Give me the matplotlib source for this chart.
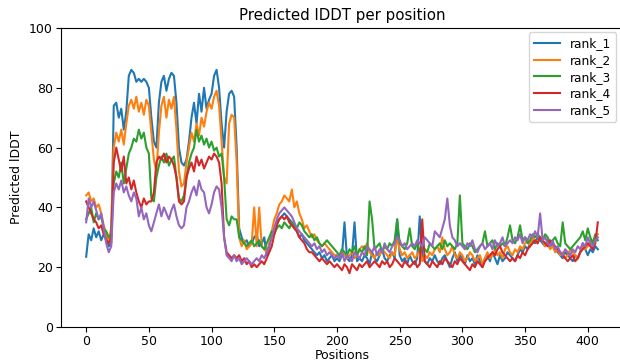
import matplotlib
matplotlib.use("Agg")
import matplotlib.pyplot as plt

positions = list(range(0, 410, 2))

rank_1 = [
    23.5, 31, 29, 33, 30, 32, 29, 31, 30, 27,
    28, 74, 75, 70, 73, 66, 72, 84, 86, 85,
    82, 83, 82, 83, 82, 80, 70, 62, 60, 75,
    82, 84, 79, 83, 85, 84, 75, 60, 55, 54,
    56, 62, 70, 75, 68, 78, 72, 80, 73, 76,
    78, 84, 86, 80, 68, 60, 72, 78, 79, 77,
    60, 33, 30, 28, 29, 27, 28, 30, 31, 27,
    28, 30, 24, 27, 31, 33, 35, 36, 37, 38,
    37, 36, 35, 33, 32, 30, 31, 29, 28, 27,
    26, 25, 24, 25, 23, 24, 22, 23, 24, 22,
    23, 22, 24, 35, 23, 22, 24, 35, 22, 23,
    22, 24, 23, 21, 25, 23, 22, 24, 26, 23,
    22, 24, 25, 23, 36, 24, 22, 23, 21, 24,
    22, 21, 23, 37, 24, 22, 21, 23, 22, 24,
    22, 21, 23, 24, 22, 20, 23, 25, 22, 24,
    23, 21, 24, 22, 23, 21, 24, 22, 20, 23,
    24, 22, 25, 23, 21, 24, 22, 23, 25, 24,
    23, 22, 24, 26, 25, 27, 26, 28, 29, 28,
    30, 29, 28, 27, 29, 28, 27, 26, 25, 24,
    23, 25, 24, 23, 22, 24, 23, 25, 28, 26,
    24, 26, 25, 27, 26,
]

rank_2 = [
    44, 45, 42, 43, 40, 41, 38, 34, 31, 29,
    33, 60, 65, 62, 66, 61, 68, 74, 76, 73,
    77, 72, 75, 71, 76, 74, 65, 56, 52, 65,
    74, 77, 70, 76, 73, 77, 66, 52, 47, 48,
    55, 60, 65, 62, 68, 64, 70, 67, 72, 75,
    73, 77, 79, 74, 62, 50, 48, 68, 71, 70,
    55, 30, 27, 29, 26, 27, 28, 40, 27, 40,
    27, 26, 25, 28, 32, 36, 38, 41, 42, 44,
    43, 42, 46, 40, 42, 38, 36, 33, 34, 32,
    30, 31, 29, 28, 27, 28, 27, 26, 25, 24,
    24, 23, 25, 24, 23, 24, 25, 23, 24, 26,
    27, 26, 28, 25, 24, 23, 25, 24, 26, 25,
    24, 23, 25, 24, 30, 26, 24, 25, 23, 24,
    25, 23, 24, 26, 22, 24, 23, 25, 24, 26,
    27, 25, 30, 26, 24, 25, 27, 24, 23, 25,
    24, 22, 23, 25, 24, 22, 23, 24, 21, 23,
    25, 23, 24, 26, 24, 25, 23, 26, 27, 25,
    24, 26, 25, 27, 26, 28, 29, 27, 30, 29,
    28, 30, 29, 27, 28, 26, 27, 25, 26, 24,
    25, 23, 24, 26, 25, 24, 23, 25, 27, 26,
    27, 29, 28, 30, 31,
]

rank_3 = [
    36, 38, 40, 35, 38, 36, 37, 33, 32, 30,
    31, 48, 52, 50, 55, 48, 53, 58, 60, 63,
    62, 66, 63, 65, 60, 58, 43, 42, 50, 54,
    57, 55, 58, 54, 56, 57, 50, 43, 42, 44,
    50, 55, 58, 60, 66, 62, 64, 61, 63, 60,
    62, 59, 60, 57, 58, 50, 36, 34, 37, 36,
    36, 30, 29, 28, 27, 28, 29, 27, 28, 29,
    27, 26, 28, 30, 32, 31, 33, 34, 33, 35,
    34, 33, 35, 34, 33, 35, 34, 32, 31, 30,
    31, 29, 30, 28, 27, 28, 29, 28, 27, 26,
    25, 24, 26, 25, 24, 26, 25, 27, 24, 26,
    25, 27, 24, 42, 36, 26, 27, 28, 25, 27,
    26, 28, 27, 29, 36, 28, 27, 26, 28, 33,
    27, 26, 28, 25, 27, 26, 25, 28, 27, 26,
    27, 28, 26, 29, 27, 28, 27, 26, 28, 44,
    28, 27, 26, 28, 27, 25, 26, 27, 28, 32,
    27, 28, 29, 26, 28, 27, 28, 27, 30, 34,
    29, 28, 30, 34, 29, 30, 28, 29, 31, 30,
    31, 30, 29, 31, 30, 28, 29, 30, 28, 27,
    35, 28, 27, 26, 27, 28, 29, 30, 32, 29,
    33, 30, 28, 31, 29,
]

rank_4 = [
    42, 40, 38, 36, 35, 33, 34, 31, 29, 28,
    30, 55, 60, 56, 52, 57, 48, 50, 46, 49,
    45, 42, 40, 43, 41, 42, 42, 45, 55, 57,
    56, 58, 55, 57, 56, 54, 50, 42, 41, 42,
    50, 53, 55, 52, 57, 54, 56, 53, 55, 57,
    56, 58, 57, 55, 48, 30, 25, 24, 23, 24,
    23, 24, 22, 23, 21, 22, 20, 21, 20, 21,
    22, 21, 23, 25, 27, 31, 34, 36, 37, 36,
    37, 35, 34, 33, 32, 30, 29, 28, 26, 25,
    25, 24, 23, 22, 23, 22, 21, 22, 21, 20,
    21, 20, 19, 21, 20, 18, 21, 20, 19, 21,
    20, 21, 22, 20, 21, 22, 21, 20, 22, 21,
    22, 20, 21, 23, 22, 21, 20, 22, 21, 20,
    21, 22, 20, 21, 36, 22, 21, 20, 22, 21,
    20, 22, 21, 23, 22, 21, 20, 22, 21, 23,
    22, 21, 20, 19, 21, 20, 22, 21, 20, 22,
    23, 24, 25, 24, 26, 27, 25, 24, 23, 22,
    23, 22, 24, 23, 25, 24, 26, 27, 28, 29,
    28, 30, 29, 28, 27, 29, 28, 27, 26, 25,
    24, 23, 22, 23, 24, 22, 23, 25, 26, 27,
    28, 27, 26, 28, 35,
]

rank_5 = [
    35, 43, 40, 42, 39, 36, 38, 33, 28, 25,
    27, 45, 48, 46, 49, 45, 47, 44, 42, 45,
    43, 37, 40, 36, 38, 34, 32, 35, 38, 41,
    37, 40, 38, 36, 39, 41, 37, 34, 33, 34,
    40, 42, 45, 47, 44, 49, 46, 45, 40, 38,
    41, 45, 47, 46, 40, 30, 24, 23, 22, 24,
    22, 23, 21, 22, 23, 22, 21, 22, 23, 22,
    24, 23, 25, 27, 30, 33, 36, 38, 39, 40,
    39, 38, 37, 35, 33, 32, 31, 30, 29, 28,
    27, 28, 26, 27, 25, 26, 24, 25, 24, 23,
    24, 23, 25, 22, 24, 23, 22, 25, 24, 23,
    25, 24, 27, 26, 25, 27, 24, 26, 25, 28,
    26, 25, 27, 28, 30, 29, 27, 28, 26, 27,
    28, 27, 29, 28, 27, 30, 29, 28, 27, 32,
    31, 30, 33, 36, 43, 34, 30, 29, 27, 28,
    27, 26, 28, 27, 29, 26, 25, 27, 28, 26,
    27, 28, 26, 29, 27, 28, 30, 27, 28, 29,
    28, 30, 29, 31, 28, 30, 29, 31, 30, 32,
    30, 38, 29, 30, 28, 27, 29, 26, 27, 25,
    24, 26, 25, 24, 26, 25, 27, 26, 28, 27,
    30, 28, 27, 29, 30,
]

series = [("rank_1", rank_1), ("rank_2", rank_2), ("rank_3", rank_3),
          ("rank_4", rank_4), ("rank_5", rank_5)]

fig = plt.figure(figsize=(6.2, 3.62), dpi=100)
ax = fig.add_axes([0.0976, 0.0967, 0.91, 0.826])
for name, vals in series:
    ax.plot(positions, vals, label=name, linewidth=1.5)

ax.set_ylim(0, 100)
ax.set_xlim(-20.45, 429.45)
ax.set_xticks([0, 50, 100, 150, 200, 250, 300, 350, 400])
ax.set_yticks([0, 20, 40, 60, 80, 100])
ax.tick_params(labelsize=9, pad=2)
ax.set_title("Predicted lDDT per position", fontsize=10.8)
ax.set_xlabel("Positions", fontsize=9, labelpad=1)
ax.set_ylabel("Predicted lDDT", fontsize=9)
ax.legend(loc="upper right", fontsize=8.7, labelspacing=0.3, handlelength=2.2,
          bbox_to_anchor=(0.985, 0.985), borderaxespad=0)

fig.savefig("out.png", dpi=100)
